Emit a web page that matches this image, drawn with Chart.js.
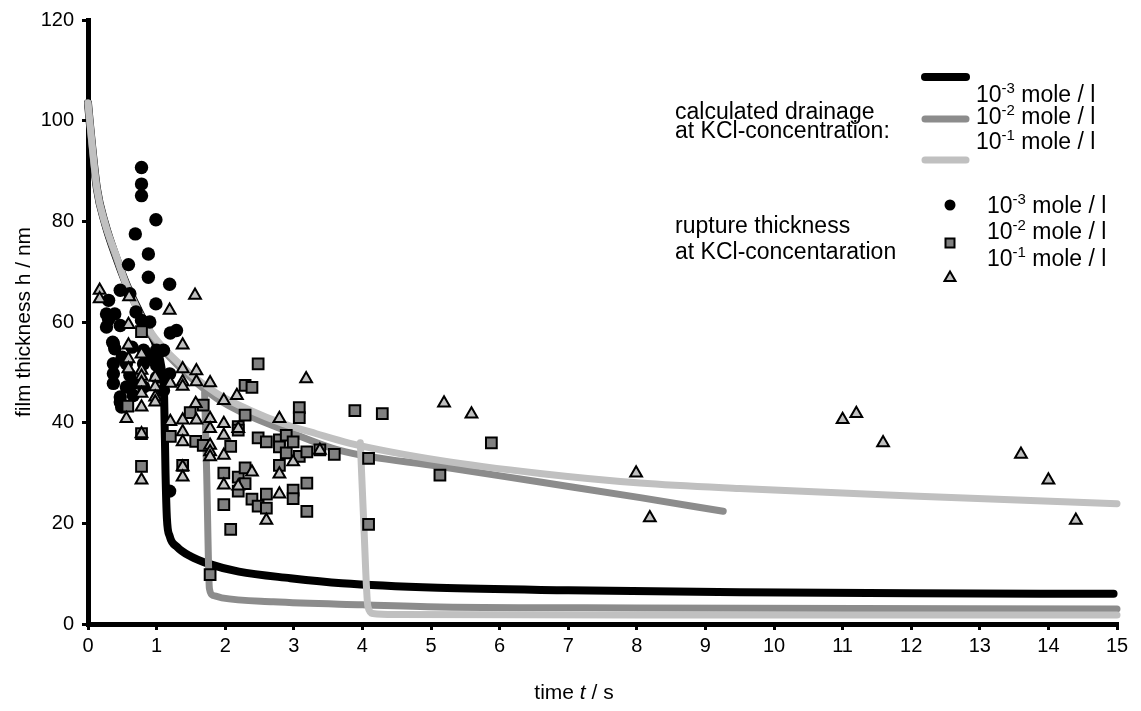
<!DOCTYPE html>
<html><head><meta charset="utf-8">
<script src="https://cdn.jsdelivr.net/npm/chart.js@4/dist/chart.umd.min.js"></script>
<style>html,body{margin:0;padding:0;background:#fff;}#wrap{width:1141px;height:711px;}</style>
</head><body><div id="wrap"><canvas id="c" width="1141" height="711"></canvas></div>
<script>
// ---- data ----
const xTickValues = [0,1,2,3,4,5,6,7,8,9,10,11,12,13,14,15];
const yTickValues = [0,20,40,60,80,100,120];

// calculated drainage curves [t, h]
const drain3 = [[0,103.5],[0.03,99],[0.13,86.5],[0.25,79.5],[0.42,72.5],[0.56,67.5],[0.75,62],[0.9,58],[1.0,55],[1.08,50],[1.11,45],[1.13,30],[1.15,21],[1.19,17.5],[1.3,15.3],[1.5,13.4],[1.75,12],[2.2,10.4],[2.95,9.1],[3.7,8.1],[5.1,7.2],[7,6.7],[9.5,6.3],[12,6.1],[14.95,6.0]];
const drain2 = [[0,103.5],[0.03,99],[0.13,86.5],[0.25,79.5],[0.42,72.5],[0.56,67.5],[0.9,58],[1.39,50.3],[1.88,44.8],[2.36,41.3],[2.85,38.6],[3.67,34.5],[5.13,31.3],[6.59,28.2],[8.05,25.1],[9.26,22.4]];
const drain2Rupture = [[1.70,46],[1.73,30],[1.77,7],[1.82,5.7],[1.95,5.2],[2.7,4.4],[4,3.8],[5.13,3.4],[8,3.2],[15,3.0]];
const drain1 = [[0,103.5],[0.03,99.3],[0.13,86.5],[0.25,79.5],[0.42,72.9],[0.56,67.3],[0.9,58.3],[1.39,51],[1.88,45.8],[2.36,42.5],[2.85,39.8],[3.33,37.8],[3.82,35.9],[5.13,32.5],[6.59,29.9],[8.05,28],[9.5,26.9],[12.1,25.4],[15,23.9]];
const drain1Rupture = [[3.97,36],[4.02,20],[4.08,3.5],[4.15,2.1],[4.5,1.9],[8,1.8],[15,1.8]];

// rupture thickness measurements [t, h]
const rupture3 = [[0.78,90.7],[0.78,87.4],[0.78,85.1],[0.99,80.3],[0.69,77.5],[0.88,73.5],[0.59,71.4],[0.88,68.9],[1.19,67.5],[0.99,63.6],[0.47,66.3],[0.61,65.6],[0.3,64.3],[0.27,61.6],[0.39,61.6],[0.27,59],[0.47,59.3],[0.78,60.3],[0.9,60],[1.2,57.8],[1.29,58.3],[0.36,56],[0.37,55.7],[0.39,54.7],[0.64,55],[0.81,54.4],[1.0,54.4],[1.1,54.4],[0.37,51.7],[0.56,51.7],[0.81,51.7],[1.0,51.4],[0.37,49.7],[0.61,49.4],[0.37,47.8],[0.56,47.1],[0.66,47.8],[0.81,47.1],[1.0,49],[1.19,49.7],[0.47,45.1],[0.66,45.4],[0.47,44.1],[0.49,43.1],[1.1,46.4],[1.19,26.4],[0.7,62],[0.5,53],[0.9,53],[0.3,60.5]];
const rupture2 = [[0.58,43.3],[0.78,58.1],[0.78,37.8],[0.78,31.3],[1.2,37.3],[1.38,31.5],[1.49,42],[1.57,36.3],[1.68,43.5],[1.68,35.5],[1.78,9.8],[1.98,30],[1.98,23.7],[2.08,35.3],[2.08,18.8],[2.19,39.2],[2.19,38.5],[2.19,29.2],[2.19,26.4],[2.29,47.4],[2.29,41.5],[2.29,31],[2.29,27.9],[2.39,47],[2.39,24.8],[2.48,51.7],[2.48,37],[2.48,23.4],[2.6,36.2],[2.6,25.8],[2.6,23],[2.79,36.6],[2.79,35.2],[2.79,31.5],[2.89,37.5],[2.89,34],[2.99,36.2],[2.99,26.6],[2.99,24.9],[3.08,43],[3.08,41],[3.08,33.3],[3.19,34.2],[3.19,28],[3.19,22.4],[3.38,34.6],[3.59,33.7],[3.89,42.4],[4.29,41.8],[4.09,32.9],[4.09,19.8],[5.13,29.6],[5.88,36]];
const rupture1 = [[0.17,66.3],[0.17,64.6],[0.6,65],[1.19,62.3],[0.59,59.5],[1.38,55.4],[0.59,55.4],[0.78,53.6],[0.59,52.7],[0.59,50.7],[0.78,50.4],[0.78,49.2],[0.78,47.9],[0.78,45.8],[0.98,49],[0.98,47.1],[0.98,45.1],[0.98,44.1],[1.38,50.7],[1.38,48.1],[1.58,50.3],[1.58,48.1],[1.56,65.3],[0.56,40.8],[0.78,43.1],[0.78,37.8],[0.78,28.6],[1.2,40.2],[1.38,40.5],[1.38,38.2],[1.38,36.2],[1.38,31.2],[1.38,29.2],[1.58,40.5],[1.78,47.9],[1.2,47.8],[1.38,47.2],[2.17,45.4],[1.98,44.4],[1.57,43.8],[1.78,40.8],[1.78,38.8],[1.98,39.8],[1.98,37.5],[2.19,38.8],[2.79,40.8],[1.78,35.5],[1.78,34.2],[1.78,33.2],[1.98,33.5],[3.38,34.5],[2.99,32.2],[2.39,30.2],[2.79,29.8],[1.98,27.6],[2.19,27.4],[2.79,25.8],[2.6,20.6],[3.18,48.7],[5.19,43.9],[5.59,41.7],[7.99,30],[8.19,21.1],[11.0,40.6],[11.2,41.8],[11.59,36],[13.6,33.7],[14.0,28.6],[14.4,20.6]];

// ---- styles ----
const FONT = "'Liberation Sans', Arial, Helvetica, sans-serif";
const C_BLACK = '#000000', C_DARK = '#8c8c8c', C_LIGHT = '#c0c0c0';
const toXY = arr => arr.map(p => ({x: p[0], y: p[1]}));

function lineDS(data, color, width, order) {
  return {type:'line', data: toXY(data), borderColor: color, backgroundColor: color, borderWidth: width,
    pointRadius: 0, showLine: true, fill: false, cubicInterpolationMode: 'monotone',
    borderCapStyle: 'round', borderJoinStyle: 'round', clip: false, order};
}
function ptDS(data, style, radius, bg, bw, order) {
  return {type:'scatter', data: toXY(data), pointStyle: style, pointRadius: radius,
    backgroundColor: bg, borderColor: '#000', borderWidth: bw, showLine: false, clip: false, order};
}

const deco = {
  id: 'deco',
  afterDraw(chart) {
    const ctx = chart.ctx;
    ctx.save();
    ctx.fillStyle = '#000';
    ctx.textBaseline = 'middle';
    ctx.textAlign = 'left';
    const F = 23;
    function txt(s, x, y) { ctx.font = F + 'px ' + FONT; ctx.fillText(s, x, y); }
    function conc(exp, x, y) {
      ctx.font = F + 'px ' + FONT; ctx.fillText('10', x, y);
      let w = ctx.measureText('10').width;
      ctx.font = '15px ' + FONT; ctx.fillText(exp, x + w, y - 7);
      let w2 = ctx.measureText(exp).width;
      ctx.font = F + 'px ' + FONT; ctx.fillText(' mole / l', x + w + w2, y);
    }
    function seg(y, color, lw) {
      ctx.strokeStyle = color; ctx.lineWidth = lw; ctx.lineCap = 'round';
      ctx.beginPath(); ctx.moveTo(925, y); ctx.lineTo(966, y); ctx.stroke();
    }
    // drainage legend
    txt('calculated drainage', 675, 113);
    txt('at KCl-concentration:', 675, 132);
    seg(77, C_BLACK, 8); seg(119, C_DARK, 7); seg(160, C_LIGHT, 7);
    conc('-3', 976, 96); conc('-2', 976, 118); conc('-1', 976, 143);
    // rupture legend
    txt('rupture thickness', 675, 227);
    txt('at KCl-concentaration', 675, 253);
    ctx.fillStyle = '#000';
    ctx.beginPath(); ctx.arc(950, 205, 5.5, 0, Math.PI * 2); ctx.fill();
    ctx.fillStyle = '#808080'; ctx.strokeStyle = '#000'; ctx.lineWidth = 2; ctx.lineCap = 'butt';
    ctx.beginPath(); ctx.rect(945.5, 238.5, 9, 9); ctx.fill(); ctx.stroke();
    ctx.fillStyle = C_LIGHT;
    ctx.beginPath(); ctx.moveTo(950, 271.5); ctx.lineTo(955.5, 281); ctx.lineTo(944.5, 281); ctx.closePath(); ctx.fill(); ctx.stroke();
    ctx.fillStyle = '#000';
    conc('-3', 987, 207); conc('-2', 987, 233); conc('-1', 987, 260);
    // x axis title with italic t
    const parts = [['time ', ''], ['t', 'italic '], [' / s', '']];
    let total = 0;
    parts.forEach(p => { ctx.font = p[1] + '21px ' + FONT; total += ctx.measureText(p[0]).width; });
    let x = 574 - total / 2;
    parts.forEach(p => { ctx.font = p[1] + '21px ' + FONT; ctx.fillText(p[0], x, 693); x += ctx.measureText(p[0]).width; });
    ctx.restore();
  }
};

new Chart(document.getElementById('c'), {
  data: {
    datasets: [
      lineDS(drain3, C_BLACK, 8, 30),
      lineDS(drain2, C_DARK, 7, 25),
      lineDS(drain2Rupture, C_DARK, 7, 25),
      lineDS(drain1, C_LIGHT, 7, 20),
      lineDS(drain1Rupture, C_LIGHT, 7, 20),
      ptDS(rupture3, 'circle', 6.7, '#000', 0, 3),
      ptDS(rupture2, 'rect', 7.6, '#808080', 2, 2),
      ptDS(rupture1, 'triangle', 6.8, C_LIGHT, 2, 1)
    ]
  },
  options: {
    responsive: false, animation: false, events: [],
    layout: {padding: {top: 19, right: 24, bottom: 0, left: 0}},
    plugins: {legend: {display: false}, tooltip: {enabled: false}},
    scales: {
      x: {type: 'linear', min: 0, max: 15,
        afterBuildTicks: s => { s.ticks = xTickValues.map(v => ({value: v})); },
        afterFit: s => { s.height = 87; },
        ticks: {font: {family: FONT, size: 20}, color: '#000', padding: 4},
        grid: {drawOnChartArea: false, drawTicks: true, tickLength: 6, lineWidth: 3, color: '#000'},
        border: {display: true, width: 5, color: '#000'}},
      y: {type: 'linear', min: 0, max: 120,
        afterBuildTicks: s => { s.ticks = yTickValues.map(v => ({value: v})); },
        afterFit: s => { s.width = 88; },
        ticks: {font: {family: FONT, size: 20}, color: '#000', padding: 8},
        grid: {drawOnChartArea: false, drawTicks: true, tickLength: 6, lineWidth: 3, color: '#000'},
        border: {display: true, width: 5, color: '#000'},
        title: {display: true, text: 'film thickness h / nm', color: '#000', font: {family: FONT, size: 21}, padding: {top: 12, bottom: 0}}}
    }
  },
  plugins: [deco]
});
</script></body></html>
